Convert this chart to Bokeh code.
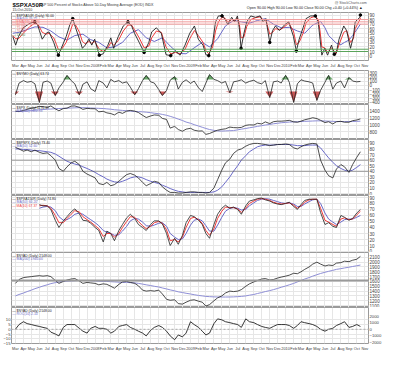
import numpy as np
import pandas as pd
from bokeh.plotting import figure
from bokeh.layouts import column
from bokeh.models import Range1d, FixedTicker, LinearAxis, Span
from bokeh.embed import file_html
from bokeh.resources import INLINE
from bokeh.core.properties import value

FONT = "Liberation Sans"
W, LB, RB = 384, 10, 14
BLACK, RED, BLUE, LAV = "#202020", "#f03c3c", "#6a6ac8", "#8f8fd6"

# ---------------- time axis ----------------
months = pd.date_range("2007-03-01", "2010-11-01", freq="MS")
month_ms = [m.timestamp() * 1000 for m in months]
month_labels = [str(m.year) if m.month == 1 else m.strftime("%b") for m in months]
half = [d for m in pd.date_range("2007-03-01", "2010-10-01", freq="MS")
        for d in (m, m + pd.Timedelta(days=14))]
x_range = Range1d(pd.Timestamp("2007-02-14"), pd.Timestamp("2010-11-15"))

# ---------------- panel 1 : $SPXA50R ----------------
p1_dates = pd.to_datetime([
    "2007-02-19", "2007-03-02", "2007-03-13", "2007-03-31", "2007-04-26", "2007-05-14", "2007-05-25",
    "2007-06-01", "2007-06-12", "2007-06-27", "2007-07-08", "2007-07-26", "2007-08-06", "2007-08-13",
    "2007-08-24", "2007-09-12", "2007-09-26", "2007-10-07", "2007-10-18", "2007-11-02", "2007-11-13",
    "2007-11-24", "2007-12-08", "2007-12-19", "2007-12-30", "2008-01-17", "2008-02-01", "2008-02-19",
    "2008-03-01", "2008-03-12", "2008-03-30", "2008-04-18", "2008-05-06", "2008-05-20", "2008-05-31",
    "2008-06-18", "2008-07-07", "2008-07-25", "2008-08-05", "2008-08-23", "2008-09-11", "2008-09-29",
    "2008-10-17", "2008-11-04", "2008-11-22", "2008-12-11", "2008-12-29", "2009-01-05", "2009-01-16",
    "2009-01-31", "2009-02-18", "2009-03-01", "2009-03-12", "2009-03-27", "2009-04-07", "2009-04-18",
    "2009-05-02", "2009-05-13", "2009-05-24", "2009-06-08", "2009-06-19", "2009-06-30", "2009-07-07",
    "2009-07-14", "2009-07-25", "2009-08-05", "2009-08-20", "2009-09-07", "2009-09-25", "2009-10-06",
    "2009-10-17", "2009-11-01", "2009-11-12", "2009-11-23", "2009-12-08", "2009-12-18", "2009-12-29",
    "2010-01-13", "2010-01-31", "2010-02-11", "2010-02-22", "2010-03-09", "2010-03-20", "2010-04-07",
    "2010-04-25", "2010-05-06", "2010-05-13", "2010-05-20", "2010-05-31", "2010-06-11", "2010-06-26",
    "2010-07-07", "2010-07-14", "2010-07-25", "2010-08-12", "2010-08-23", "2010-09-07", "2010-09-18",
    "2010-09-25", "2010-10-13", "2010-10-15"])
p1_close = [43, 24, 43, 62, 72, 75, 69, 56, 37, 50, 53, 30, 11, 2, 17, 43, 69, 82, 62, 37, 17,
            24, 37, 24, 37, 2, 5, 24, 40, 17, 43, 66, 75, 66, 50, 30, 8, 30, 53, 62, 50, 3,
            1, 11, 2, 24, 50, 56, 66, 37, 24, 3, 1, 30, 75, 88, 88, 82, 69, 85, 75, 88, 62,
            17, 50, 75, 88, 85, 88, 75, 82, 30, 56, 66, 56, 62, 69, 75, 43, 11, 37, 62, 82, 88,
            88, 75, 37, 2, 17, 2, 24, 4, 6, 37, 66, 56, 17, 43, 75, 85, 90]
p1_ema = [45, 38, 38, 50, 65, 72, 70, 64, 52, 48, 50, 40, 25, 14, 14, 30, 52, 70, 68, 52, 32,
          27, 32, 28, 32, 15, 10, 18, 30, 24, 34, 55, 68, 68, 58, 40, 18, 22, 40, 55, 52, 20,
          5, 8, 5, 15, 38, 45, 56, 45, 30, 12, 5, 20, 55, 75, 85, 83, 75, 80, 78, 83, 72,
          40, 42, 65, 80, 84, 86, 80, 80, 48, 52, 60, 58, 60, 65, 72, 55, 25, 30, 50, 72, 84,
          87, 80, 55, 20, 18, 8, 18, 10, 6, 25, 52, 56, 30, 38, 60, 80, 84]
p1_ma_dates = pd.to_datetime([
    "2007-02-19", "2007-03-15", "2007-04-15", "2007-05-15", "2007-06-15", "2007-07-15", "2007-08-15",
    "2007-09-15", "2007-10-15", "2007-11-15", "2007-12-15", "2008-01-15", "2008-02-15", "2008-03-15",
    "2008-04-15", "2008-05-15", "2008-06-15", "2008-07-15", "2008-08-15", "2008-09-15", "2008-10-15",
    "2008-11-15", "2008-12-15", "2009-01-15", "2009-02-15", "2009-03-15", "2009-04-15", "2009-05-15",
    "2009-06-15", "2009-07-15", "2009-08-15", "2009-09-15", "2009-10-15", "2009-11-15", "2009-12-15",
    "2010-01-15", "2010-02-15", "2010-03-15", "2010-04-15", "2010-05-15", "2010-06-01", "2010-06-15",
    "2010-07-15", "2010-08-01", "2010-08-15", "2010-09-01", "2010-09-15", "2010-10-01", "2010-10-15"])
p1_ma50 = [50, 52, 58, 64, 63, 55, 42, 35, 45, 48, 36, 30, 18, 20, 30, 50, 58, 40, 32, 40, 22,
           6, 5, 18, 30, 20, 38, 66, 78, 75, 72, 78, 82, 70, 62, 63, 55, 50, 68, 76, 62, 45,
           28, 25, 30, 35, 45, 58, 70]
p1_dot_dates = pd.to_datetime(["2007-05-14", "2007-08-13", "2007-10-07", "2008-01-17", "2008-05-06",
                               "2008-07-07", "2008-10-17", "2009-03-12", "2009-05-02", "2009-07-14",
                               "2009-11-01", "2010-02-11", "2010-04-25", "2010-07-07", "2010-10-15"])
p1_dot_vals = [75, 2, 82, 2, 75, 8, 1, 1, 88, 17, 30, 11, 88, 4, 90]
p1_red_levels = [80, 75, 70]
p1_green_levels = [15, 10]

# ---------------- panel 2 : breadth oscillator ----------------
p2_vals = [-230, 60, 120, 80, 100, 40, -420, 80, 110, 60, -250, -60, 90, 250, 120, 40, -230, 30,
           90, -80, -150, 120, 60, -60, 150, 90, 120, 60, 90, -40, -230, -80, 120, 250, 90, 60,
           -100, -250, -120, 130, 220, -90, 80, 140, 50, 110, -60, -150, 60, 270, 150, 120, 60,
           100, -180, 90, 110, 140, 60, 100, 130, 70, 40, 120, -300, 90, 110, 60, 250, 80, -420,
           40, 140, 110, 90, 60, -370, -120, 80, 250, -90, 60, 110, -60, 200, 110, 90, 100]

# ---------------- panel 3 : $SPX ----------------
p3_spx = [1400, 1385, 1420, 1450, 1485, 1500, 1535, 1530, 1505, 1550, 1465, 1410, 1475, 1485,
          1545, 1550, 1510, 1450, 1480, 1470,
          1468, 1380, 1395, 1350, 1330, 1290, 1370, 1335, 1400, 1420, 1400, 1360, 1280, 1215,
          1260, 1290, 1280, 1190, 1160, 910, 960, 870, 820, 880,
          905, 850, 825, 830, 730, 755, 810, 850, 875, 890, 940, 925, 920, 930, 990, 1005, 1000,
          1050, 1030, 1090, 1040, 1095, 1110, 1110,
          1120, 1135, 1090, 1080, 1110, 1150, 1180, 1210, 1185, 1135, 1070, 1095, 1030, 1095,
          1105, 1080, 1080, 1125, 1145, 1176]
p3_ma200 = [1390, 1395, 1400, 1405, 1415, 1425, 1435, 1445, 1455, 1460, 1470, 1475, 1480, 1485,
            1490, 1495, 1500, 1500, 1495, 1490,
            1485, 1480, 1475, 1465, 1455, 1440, 1430, 1420, 1410, 1400, 1390, 1385, 1380, 1370,
            1355, 1340, 1325, 1305, 1280, 1250, 1210, 1170, 1130, 1085,
            1050, 1010, 970, 935, 900, 870, 845, 830, 825, 830, 835, 840, 860, 880, 900, 920, 940,
            960, 980, 1000, 1015, 1035, 1050, 1065,
            1075, 1085, 1090, 1095, 1100, 1105, 1110, 1115, 1120, 1120, 1115, 1110, 1105, 1100,
            1100, 1100, 1100, 1100, 1105, 1110]

# ---------------- panel 4 : $BPSPX ----------------
p4_bp = [83, 80, 76, 78, 75, 78, 74, 72, 73, 68, 60, 45, 40, 48, 55, 58, 52, 40, 35, 32,
         28, 18, 16, 20, 14, 16, 22, 28, 34, 36, 33, 28, 20, 14, 18, 22, 20, 12, 6, 2, 2, 1, 1, 2,
         3, 3, 2, 2, 1, 2, 10, 25, 42, 55, 62, 72, 78, 80, 85, 88, 90, 90, 89, 88, 86, 87, 88, 88,
         89, 88, 82, 80, 84, 87, 89, 90, 89, 60, 42, 32, 28, 44, 52, 48, 38, 52, 65, 75]
p4_ma = [80, 80, 79, 79, 78, 77, 77, 76, 75, 74, 71, 67, 62, 58, 55, 53, 51, 48, 45, 42,
         38, 34, 30, 26, 23, 21, 20, 22, 25, 28, 30, 30, 28, 25, 22, 20, 18, 15, 12, 9, 6, 4, 3, 2,
         2, 2, 2, 2, 2, 2, 3, 6, 12, 20, 30, 40, 50, 60, 68, 75, 80, 84, 86, 87, 87, 87, 88, 88,
         88, 88, 87, 86, 86, 86, 87, 87, 87, 82, 72, 64, 56, 50, 45, 42, 40, 42, 47, 52]
p4_levels = [60, 40]

# ---------------- panel 5 : percent above MA (starts Jun 2007) ----------------
p5_close = [78, 76, 76, 70, 52, 40, 51, 58, 66, 71, 63, 52, 51, 47, 40, 35, 16, 34, 30, 18, 35,
            45, 56, 62, 55, 45, 40, 35, 45, 51, 51, 46, 30, 10, 22, 12, 27, 48, 60, 58, 52, 45,
            30, 22, 45, 62, 72, 77, 72, 74, 70, 62, 76, 84, 86, 88, 89, 86, 84, 81, 79, 78, 80,
            82, 75, 70, 78, 85, 87, 87, 87, 65, 45, 48, 42, 40, 60, 57, 52, 55, 64, 70]
p5_fast = [76, 77, 76, 72, 60, 48, 48, 55, 62, 68, 66, 58, 53, 49, 43, 38, 25, 30, 30, 24, 30,
           40, 50, 58, 57, 50, 43, 38, 42, 48, 50, 47, 36, 18, 20, 16, 24, 40, 55, 57, 53, 47,
           35, 27, 38, 55, 67, 74, 73, 73, 71, 65, 72, 80, 84, 87, 88, 87, 85, 82, 80, 79, 80,
           81, 77, 72, 76, 82, 86, 87, 87, 72, 52, 49, 45, 42, 54, 56, 53, 54, 61, 67]
p5_slow = [72, 74, 75, 74, 68, 58, 52, 53, 57, 62, 64, 62, 57, 53, 48, 43, 35, 32, 30, 27, 28,
           34, 42, 51, 55, 54, 49, 43, 42, 44, 47, 48, 42, 30, 24, 20, 21, 30, 44, 52, 54, 51,
           43, 34, 34, 44, 57, 67, 72, 73, 72, 69, 70, 76, 81, 85, 87, 88, 87, 85, 83, 81, 80,
           81, 79, 75, 75, 79, 83, 86, 87, 80, 64, 54, 49, 45, 49, 53, 54, 54, 57, 60]

# ---------------- panel 6 : cumulative A/D line ----------------
p6_ad = [1560, 1640, 1680, 1690, 1700, 1710, 1720, 1710, 1720, 1700, 1620, 1560, 1600, 1630,
         1650, 1660, 1610, 1560, 1580, 1570,
         1560, 1530, 1550, 1540, 1500, 1460, 1540, 1590, 1600, 1580, 1560, 1510, 1420, 1400,
         1410, 1400, 1420, 1340, 1230, 1210, 1220, 1140, 1130, 1170,
         1210, 1220, 1190, 1170, 1090, 1120, 1200, 1260, 1300, 1360, 1400, 1390, 1400, 1430,
         1500, 1550, 1590, 1620, 1650, 1660, 1630, 1640, 1670, 1690,
         1710, 1730, 1770, 1760, 1800, 1850, 1900, 1960, 2000, 1960, 1920, 1940, 1930, 1980,
         1990, 2020, 2010, 2040, 2060, 2120]
p6_ma = [1300, 1330, 1360, 1390, 1420, 1450, 1480, 1505, 1530, 1555, 1575, 1590, 1600, 1605,
         1610, 1615, 1620, 1620, 1620, 1615,
         1610, 1605, 1600, 1600, 1595, 1590, 1585, 1580, 1580, 1575, 1570, 1560, 1545, 1530,
         1515, 1500, 1485, 1465, 1445, 1425, 1405, 1385, 1370, 1355,
         1340, 1325, 1310, 1300, 1290, 1285, 1280, 1278, 1277, 1277, 1278, 1280, 1285, 1290,
         1300, 1315, 1330, 1350, 1370, 1390, 1410, 1430, 1455, 1480,
         1505, 1530, 1560, 1590, 1620, 1650, 1680, 1710, 1740, 1765, 1790, 1810, 1830, 1850,
         1865, 1880, 1895, 1910, 1925, 1940]
p6_level = 1620

# ---------------- panel 7 : oscillator ----------------
p7_osc = [0, 5, 8, 6, 5, 4, 3, 2, 1, -3, -5, -7, 2, 5, 5, 5, 1, -2, -4, 1, 3, 1, 1, 0, -4, -2,
          3, 4, 5, 2, 0, -2, -4, -7, -1, 2, 4, 2, -2, -7, -11, -6, -8, -4, 8, 5, 2, -2, -6, -4,
          6, 11, 10, 8, 7, 6, 5, 2, 11, 8, 7, 5, 3, 2, 1, 3, 5, 5, 5, 4, 1, 4, 8, 7, 6, 5, 3,
          0, -2, 0, 1, 4, 6, 8, 2, 3, 5, 3]


def base(h, y0, y1, ticks, yloc="right", xaxis=False):
    p = figure(width=W, height=h, x_range=x_range, y_range=Range1d(y0, y1),
               x_axis_type="datetime", y_axis_location=yloc, title=None,
               output_backend="svg", toolbar_location=None,
               min_border_left=LB, min_border_right=RB, min_border_top=0, min_border_bottom=0)
    xa = p.xaxis[0]
    xa.ticker = FixedTicker(ticks=month_ms)
    if xaxis:
        xa.major_label_overrides = dict(zip(month_ms, month_labels))
        xa.axis_line_color = None
        xa.major_tick_line_color = None
        xa.minor_tick_line_color = None
        xa.major_tick_out = 0
        xa.major_tick_in = 0
        xa.major_label_standoff = 2
        xa.major_label_text_font = FONT
        xa.major_label_text_font_size = "3.9px"
        xa.major_label_text_color = "#444444"
    else:
        xa.visible = False
    p.xgrid.ticker = FixedTicker(ticks=month_ms)
    p.yaxis.ticker = FixedTicker(ticks=ticks)
    p.grid.grid_line_color = "#e6e6e6"
    p.grid.grid_line_width = 1
    p.outline_line_color = "#9a9a9a"
    return p


def style_axes(p, size="4.6px"):
    for ax in p.yaxis:
        ax.axis_line_color = None
        ax.major_tick_line_color = None
        ax.minor_tick_line_color = None
        ax.major_tick_out = 0
        ax.major_tick_in = 0
        ax.major_label_text_font_size = size
        ax.major_label_text_font = FONT
        ax.major_label_text_color = "#444444"
        ax.major_label_standoff = 1


def legend(p, rows, y0, y1, h, top=1.5, step=3.3):
    xs, ys, txt, col = [], [], [], []
    for k, (t, c) in enumerate(rows):
        xs.append(pd.Timestamp("2007-02-17"))
        ys.append(y1 - (y1 - y0) * (top + k * step) / h)
        txt.append("\u2014 " + t)
        col.append(c)
    p.text(x=xs, y=ys, text=txt, text_color=col, text_baseline="top",
           text_font=value(FONT), text_font_size="3.4px")


# ---------------- header ----------------
hd = figure(width=W, height=12, x_range=Range1d(0, 400), y_range=Range1d(12, 0),
            x_axis_location=None, y_axis_location=None, title=None, output_backend="svg",
            toolbar_location=None, min_border_left=0, min_border_right=0,
            min_border_top=0, min_border_bottom=0)
hd.grid.visible = False
hd.outline_line_color = None
hd.text(x=[1], y=[1.0], text=["$SPXA50R"], text_font=value(FONT), text_font_size="6px",
        text_font_style="bold", text_color="#111111", text_baseline="top")
hd.text(x=[31], y=[2.4], text=["S&P 500 Percent of Stocks Above 50-Day Moving Average (EOD) INDX"],
        text_font=value(FONT), text_font_size="3.6px", text_color="#333333", text_baseline="top")
hd.text(x=[1], y=[11.6], text=["15-Oct-2010"], text_font=value(FONT), text_font_size="3.6px",
        text_color="#333333", text_baseline="bottom")
hd.text(x=[398], y=[0.8], text=["@ StockCharts.com"], text_font=value(FONT), text_font_size="3.6px",
        text_color="#555555", text_align="right", text_baseline="top")
hd.text(x=[398], y=[5.2], text=["Open 90.00  High 90.00  Low 90.00  Close 90.00  Chg +0.40 (+0.44%) \u25b2"],
        text_font=value(FONT), text_font_size="3.7px", text_color="#222222", text_align="right",
        text_baseline="top")

# ---------------- P1 ----------------
A1, B1 = -9.7, 95.5
p1 = base(58, A1, B1, list(range(0, 100, 10)), xaxis=True)
for lv in p1_red_levels:
    p1.add_layout(Span(location=lv, dimension="width", line_color="#f29a9a", line_width=1))
for lv in p1_green_levels:
    p1.add_layout(Span(location=lv, dimension="width", line_color="#5aa35a", line_width=1))
p1.line(p1_ma_dates, p1_ma50, line_color=BLUE, line_width=1)
p1.line(p1_dates, p1_ema, line_color=RED, line_width=1)
p1.line(p1_dates, p1_close, line_color=BLACK, line_width=0.9)
p1.scatter(p1_dot_dates, p1_dot_vals, size=2.6, color="#000000")
legend(p1, [("$SPXA50R (Daily) 90.00", BLACK), ("MA(50) 70.52", BLUE), ("EMA(10) 83.95", RED),
            ("80.00", "#e06060"), ("75.00", "#e06060"), ("70.00", "#e06060"), ("15.00", "#4a8a4a")],
       A1, B1, 51)
style_axes(p1)

# ---------------- P2 ----------------
H2, A2, B2 = 34, -470, 370
p2 = base(H2, A2, B2, list(range(-400, 400, 100)))
pv = np.array(p2_vals, dtype=float)
p2.varea(x=half, y1=[150] * len(half), y2=np.maximum(pv, 150), fill_color="#4f9a4f", fill_alpha=0.85)
p2.varea(x=half, y1=[-150] * len(half), y2=np.minimum(pv, -150), fill_color="#c23b3b", fill_alpha=0.85)
p2.line(half, p2_vals, line_color=BLACK, line_width=0.8)
legend(p2, [("$NYMO (Daily) 63.74", BLACK)], A2, B2, H2)
style_axes(p2)

# ---------------- P3 ----------------
H3, A3, B3 = 35, 582, 1591
p3 = base(H3, A3, B3, [800, 1000, 1200, 1400])
p3.line(half, p3_ma200, line_color=LAV, line_width=1)
p3.line(half, p3_spx, line_color=BLACK, line_width=0.8)
legend(p3, [("$SPX (Daily) 1176.19", BLACK), ("MA(200) 1112.33", BLUE)], A3, B3, H3)
style_axes(p3)

# ---------------- P4 ----------------
H4, A4, B4 = 56, -3.5, 97
p4 = base(H4, A4, B4, list(range(0, 100, 10)))
for lv in p4_levels:
    p4.add_layout(Span(location=lv, dimension="width", line_color="#444444", line_width=1,
                       line_dash="1 1"))
p4.line(half, p4_ma, line_color=BLUE, line_width=1)
p4.line(half, p4_bp, line_color=BLACK, line_width=0.8)
legend(p4, [("$BPSPX (Daily) 73.40", BLACK), ("MA(50) 52.60", BLUE)], A4, B4, H4)
style_axes(p4)

# ---------------- P5 ----------------
H5, A5, B5 = 57, -1.6, 93.2
p5 = base(H5, A5, B5, list(range(0, 100, 10)))
p5.line(half[6:], p5_slow, line_color=BLUE, line_width=1)
p5.line(half[6:], p5_fast, line_color=RED, line_width=1)
p5.line(half[6:], p5_close, line_color=BLACK, line_width=0.8)
legend(p5, [("$SPXA150R (Daily) 74.80", BLACK), ("MA(50) 60.20", BLUE), ("MA(10) 67.37", RED)],
       A5, B5, H5)
style_axes(p5)

# ---------------- P6 ----------------
H6, A6, B6 = 55, 1060, 2200
p6 = base(H6, A6, B6, list(range(1100, 2200, 100)))
p6.add_layout(Span(location=p6_level, dimension="width", line_color="#9a9a9a", line_width=2))
p6.line(half, p6_ma, line_color=LAV, line_width=1)
p6.line(half, p6_ad, line_color=BLACK, line_width=0.8)
legend(p6, [("$NYAD (Daily) 2148.00", BLACK), ("MA(200) 1940.00", BLUE)], A6, B6, H6)
style_axes(p6)

# ---------------- P7 ----------------
A7, B7 = -15, 23
p7 = base(46, A7, B7, [-15, -10, -5, 0, 5, 10], yloc="left", xaxis=True)
p7.extra_y_ranges = {"r": Range1d(-2222, 3407)}
p7.add_layout(LinearAxis(y_range_name="r", ticker=FixedTicker(ticks=[-2000, -1000, 0, 1000, 2000])), "right")
p7.add_layout(Span(location=0, dimension="width", line_color="#aaaaaa", line_width=1, line_dash="2 2"))
p7.line(half, p7_osc, line_color=BLACK, line_width=0.9)
legend(p7, [("$NYAD (Daily) 2148.00", BLACK), ("ROC(10) 2.10", BLUE)], A7, B7, 37)
style_axes(p7, size="4.2px")

layout = column(hd, p1, p2, p3, p4, p5, p6, p7, spacing=0)
open("out.html", "w").write(file_html(layout, INLINE))
